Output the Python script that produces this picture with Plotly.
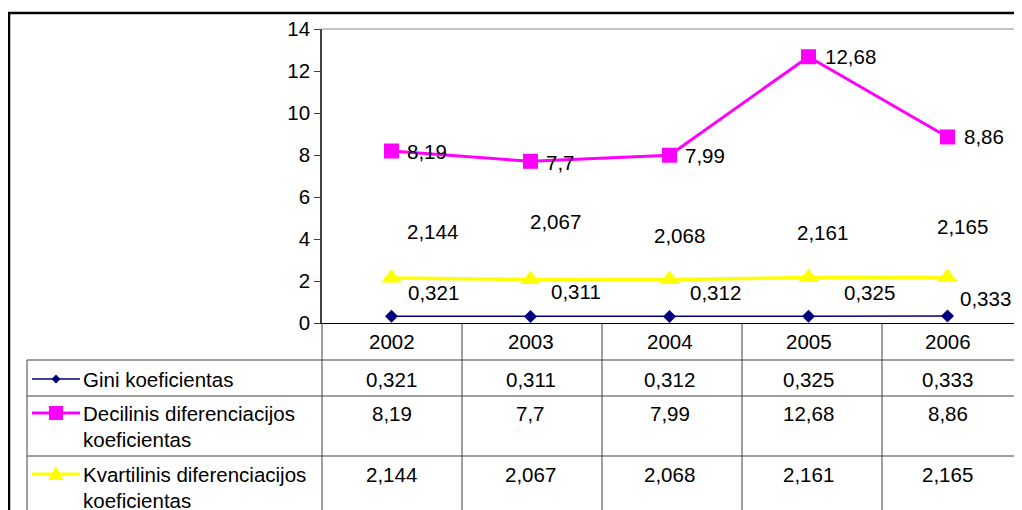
import plotly.graph_objects as go

# ---------------- data ----------------
years = ["2002", "2003", "2004", "2005", "2006"]
gini = [0.321, 0.311, 0.312, 0.325, 0.333]
decil = [8.19, 7.7, 7.99, 12.68, 8.86]
kvart = [2.144, 2.067, 2.068, 2.161, 2.165]
series_names = [
    "Gini koeficientas",
    "Decilinis diferenciacijos koeficientas",
    "Kvartilinis diferenciacijos koeficientas",
]
y_ticks = [0, 2, 4, 6, 8, 10, 12, 14]

# ---------------- style ----------------
W, H = 1022, 510
OFF = 8  # page body margin offset
FONT = "Liberation Sans, Arial, sans-serif"
FS = 20.5
NAVY, MAG, YEL = "#000080", "#FF00FF", "#FFFF00"
GRID = "#404040"
PL, PR, PT, PB = 322, 1017, 29, 323
GINI_OFF = [(16, -24), (20, -25), (20, -24), (35, -24), (12, -18)]
DEC_OFF = [(15, 0), (15, 1), (15, 0), (16, 0), (16, 0)]
KV_OFF = [(15, -46), (-1, -58), (-16, -44), (-12, -45), (-11, -51)]
HEADER_Y = 341
ROW_LINES = [360, 396, 456]
ROW_TEXT_Y = [379, 413, 474]
LINE_GAP = 26
COL_LINES = [322, 462, 602, 742, 882, 1018]


def px(x):
    return (x - OFF) / W


def py(y):
    return 1 - (y - OFF) / H


def fmt(v):
    return str(v).replace(".", ",")


series = [
    dict(vals=gini, color=NAVY, symbol="diamond", size=10, width=1.5, off=GINI_OFF, key="diamond", kr=4.5),
    dict(vals=decil, color=MAG, symbol="square", size=15, width=3, off=DEC_OFF, key="square", kr=7),
    dict(vals=kvart, color=YEL, symbol="triangle-up", size=18, width=3.5, off=KV_OFF, key="triangle", kr=8),
]

fig = go.Figure()

for s, name in zip(series, series_names):
    fig.add_trace(go.Scatter(
        x=years, y=s["vals"], mode="lines+markers", name=name,
        line=dict(color=s["color"], width=s["width"]),
        marker=dict(symbol=s["symbol"], size=s["size"], color=s["color"], line=dict(width=0)),
        cliponaxis=False, showlegend=False, hoverinfo="skip",
    ))

annotations = []
shapes = []

for s in series:
    for i, (v, (dx, dy)) in enumerate(zip(s["vals"], s["off"])):
        annotations.append(dict(
            x=i, y=v, xref="x", yref="y", text=fmt(v), showarrow=False,
            xanchor="left", yanchor="middle", xshift=dx - 2, yshift=-dy,
            font=dict(family=FONT, size=FS, color="black"),
        ))

for i, yr in enumerate(years):
    annotations.append(dict(
        x=i, y=py(HEADER_Y), xref="x", yref="paper", text=yr, showarrow=False,
        xanchor="center", yanchor="middle", font=dict(family=FONT, size=FS, color="black"),
    ))


def key_path(kind, cx, cy, r):
    if kind == "diamond":
        pts = [(cx, cy - r), (cx + r, cy), (cx, cy + r), (cx - r, cy)]
    elif kind == "square":
        pts = [(cx - r, cy - r), (cx + r, cy - r), (cx + r, cy + r), (cx - r, cy + r)]
    else:
        pts = [(cx, cy - r), (cx + r, cy + r * 0.75), (cx - r, cy + r * 0.75)]
    return "M " + " L ".join(f"{px(a):.5f},{py(b):.5f}" for a, b in pts) + " Z"


for r, (s, name) in enumerate(zip(series, series_names)):
    ty = ROW_TEXT_Y[r]
    for i, v in enumerate(s["vals"]):
        annotations.append(dict(
            x=i, y=py(ty), xref="x", yref="paper", text=fmt(v), showarrow=False,
            xanchor="center", yanchor="middle", font=dict(family=FONT, size=FS, color="black"),
        ))
    lines = [name] if len(name) < 22 else name.rsplit(" ", 1)
    for j, ln in enumerate(lines):
        annotations.append(dict(
            x=px(81), y=py(ty + j * LINE_GAP), xref="paper", yref="paper", text=ln,
            showarrow=False, xanchor="left", yanchor="middle",
            font=dict(family=FONT, size=FS, color="black"),
        ))
    shapes.append(dict(type="line", xref="paper", yref="paper", x0=px(32), x1=px(80),
                       y0=py(ty), y1=py(ty), line=dict(color=s["color"], width=min(s["width"], 3))))
    shapes.append(dict(type="path", xref="paper", yref="paper", path=key_path(s["key"], 56, ty, s["kr"]),
                       fillcolor=s["color"], line=dict(width=0)))

shapes.append(dict(type="rect", xref="paper", yref="paper", x0=px(9), x1=px(1040),
                   y0=py(13), y1=py(530), line=dict(color="black", width=2.5), layer="below"))
shapes.append(dict(type="line", xref="paper", yref="paper", x0=px(PL), x1=px(PR),
                   y0=py(PT), y1=py(PT), line=dict(color="#8c8c8c", width=1.2), layer="below"))
shapes.append(dict(type="line", xref="paper", yref="paper", x0=px(PR), x1=px(PR),
                   y0=py(PT), y1=py(PB), line=dict(color="#8c8c8c", width=1.2), layer="below"))
for cx in COL_LINES:
    shapes.append(dict(type="line", xref="paper", yref="paper", x0=px(cx), x1=px(cx),
                       y0=py(PB), y1=py(520), line=dict(color=GRID, width=1)))
shapes.append(dict(type="line", xref="paper", yref="paper", x0=px(27), x1=px(27),
                   y0=py(ROW_LINES[0]), y1=py(520), line=dict(color=GRID, width=1)))
for ry in ROW_LINES:
    shapes.append(dict(type="line", xref="paper", yref="paper", x0=px(27), x1=px(1018),
                       y0=py(ry), y1=py(ry), line=dict(color=GRID, width=1)))

fig.update_layout(
    width=W, height=H,
    margin=dict(l=0, r=0, t=0, b=0, autoexpand=False),
    paper_bgcolor="white", plot_bgcolor="rgba(0,0,0,0)",
    showlegend=False,
    xaxis=dict(
        type="category", domain=[px(PL), px(PR)], range=[-0.5, 4.5],
        showticklabels=False, ticks="", showgrid=False, zeroline=False,
        showline=True, linecolor="black", linewidth=1.2, automargin=False,
    ),
    yaxis=dict(
        domain=[py(PB), py(PT)], range=[0, 14], tickvals=y_ticks,
        ticktext=[str(t) for t in y_ticks],
        ticks="outside", ticklen=6, tickcolor="#404040", tickwidth=1.2,
        showline=True, linecolor="#404040", linewidth=1.5,
        showgrid=False, zeroline=False, automargin=False,
        tickfont=dict(family=FONT, size=FS, color="black"),
    ),
    annotations=annotations,
    shapes=shapes,
)

fig.write_html("out.html")
